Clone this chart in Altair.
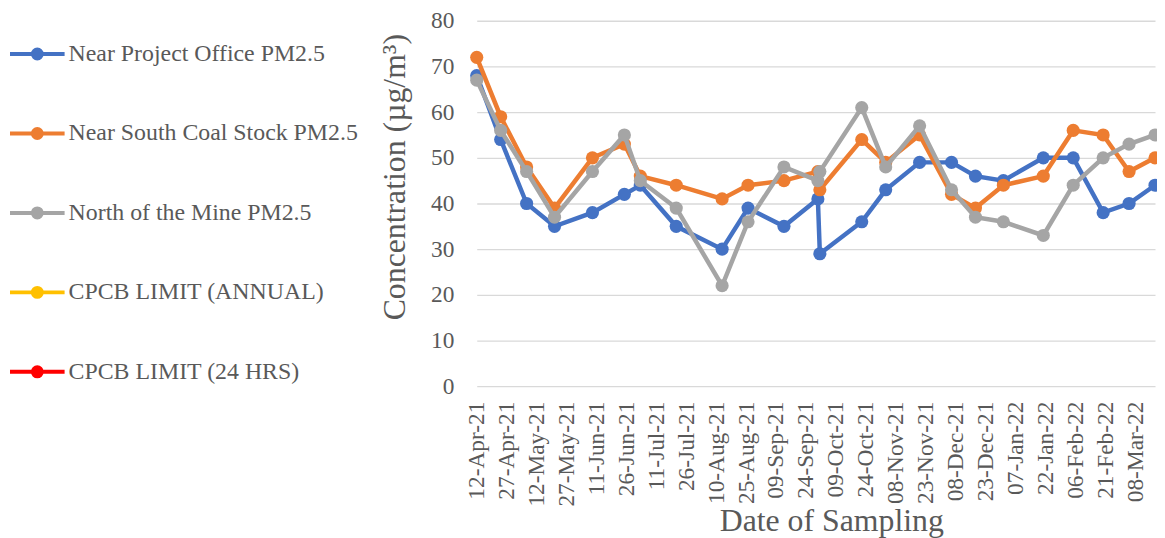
import altair as alt
import pandas as pd

# ---- data ----
dates = ["2021-04-12", "2021-04-24", "2021-05-07", "2021-05-21", "2021-06-09",
         "2021-06-25", "2021-07-03", "2021-07-21", "2021-08-13", "2021-08-26",
         "2021-09-13", "2021-09-30", "2021-10-01", "2021-10-22", "2021-11-03",
         "2021-11-20", "2021-12-06", "2021-12-18", "2022-01-01", "2022-01-21",
         "2022-02-05", "2022-02-20", "2022-03-05", "2022-03-18"]
office = [68, 54, 40, 35, 38, 42, 44, 35, 30, 39, 35, 41, 29, 36, 43, 49, 49, 46,
          45, 50, 50, 38, 40, 44]
south = [72, 59, 48, 39, 50, 53, 46, 44, 41, 44, 45, 47, 43, 54, 49, 55, 42, 39,
         44, 46, 56, 55, 47, 50]
north = [67, 56, 47, 37, 47, 55, 45, 39, 22, 36, 48, 45, 47, 61, 48, 57, 43, 37,
         36, 33, 44, 50, 53, 55]

series_names = ["Near Project Office PM2.5", "Near South Coal Stock PM2.5",
                "North of the Mine PM2.5", "CPCB LIMIT (ANNUAL)",
                "CPCB LIMIT (24 HRS)"]
series_colors = ["#4472C4", "#ED7D31", "#A5A5A5", "#FFC000", "#FF0000"]

tick_dates = ["2021-04-12", "2021-04-27", "2021-05-12", "2021-05-27", "2021-06-11",
              "2021-06-26", "2021-07-11", "2021-07-26", "2021-08-10", "2021-08-25",
              "2021-09-09", "2021-09-24", "2021-10-09", "2021-10-24", "2021-11-08",
              "2021-11-23", "2021-12-08", "2021-12-23", "2022-01-07", "2022-01-22",
              "2022-02-06", "2022-02-21", "2022-03-08"]
y_ticks = [0, 10, 20, 30, 40, 50, 60, 70, 80]

x_start = "2021-04-12"
x_end = "2022-03-18"


def ms(d):
    return int(pd.Timestamp(d, tz="UTC").value // 10**6)


rows = []
for name, vals in zip(series_names[:3], [office, south, north]):
    for d, v in zip(dates, vals):
        rows.append({"date": d, "value": v, "series": name})
df = pd.DataFrame(rows)

TEXT = "#595959"
FONT = "Liberation Serif"

# legend glyph: line with a (ring-filled) circle in the middle
L = 55.0
def circ(r):
    r = r / (L / 2)
    return f"M{r:.4f},0A{r:.4f},{r:.4f},0,1,1,{-r:.4f},0A{r:.4f},{r:.4f},0,1,1,{r:.4f},0Z"
symbol_path = "M-1,0H1" + circ(1.5) + circ(3.5) + circ(4.5)

color = alt.Color(
    "series:N",
    scale=alt.Scale(domain=series_names, range=series_colors),
    legend=alt.Legend(
        title=None,
        orient="none",
        legendX=-472,
        legendY=4,
        direction="vertical",
        padding=0,
        symbolType=symbol_path,
        symbolSize=L * L,
        symbolStrokeWidth=4,
        symbolOpacity=1,
        rowPadding=38,
        labelOffset=2,
        labelFont=FONT,
        labelFontSize=24,
        labelColor=TEXT,
        labelLimit=0,
    ),
)

x = alt.X(
    "date:T",
    scale=alt.Scale(type="utc", domain=[ms(x_start), ms(x_end)], nice=False),
    axis=alt.Axis(
        values=[ms(d) for d in tick_dates],
        labelExpr="utcFormat(datum.value, '%d-%b-%y')",
        labelAngle=-90,
        labelFlush=False,
        labelOverlap=False,
        grid=False,
        ticks=False,
        tickSize=0,
        domain=False,
        labelPadding=15,
        labelFont=FONT,
        labelFontSize=23.5,
        labelColor=TEXT,
        title="Date of Sampling",
        titleFont=FONT,
        titleFontSize=32,
        titleFontWeight="normal",
        titleColor=TEXT,
        titlePadding=0,
        titleX=357,
    ),
)

y = alt.Y(
    "value:Q",
    scale=alt.Scale(domain=[0, 80], nice=False),
    axis=alt.Axis(
        values=y_ticks,
        grid=True,
        gridColor="#D9D9D9",
        gridWidth=1.3,
        ticks=False,
        tickSize=0,
        domain=False,
        labelPadding=23,
        labelFont=FONT,
        labelFontSize=23.5,
        labelColor=TEXT,
        title="Concentration (µg/m³)",
        titleFont=FONT,
        titleFontSize=32,
        titleFontWeight="normal",
        titleColor=TEXT,
        titlePadding=19,
        titleY=157,
    ),
)

layers = []
for name in series_names[:3]:
    layers.append(
        alt.Chart(df)
        .transform_filter(alt.datum.series == name)
        .mark_line(
            strokeWidth=4.5,
            point=alt.OverlayMarkDef(filled=True, size=175, opacity=1),
        )
        .encode(x=x, y=y, color=color)
    )

chart = (
    alt.layer(*layers)
    .properties(
        width=683,
        height=368,
        autosize=alt.AutoSizeParams(type="none"),
        padding={"left": 472, "top": 11, "right": 2, "bottom": 155},
        background="white",
    )
    .configure_view(stroke=None)
)

chart.save("out.html", embed_options={"renderer": "svg", "actions": False})
